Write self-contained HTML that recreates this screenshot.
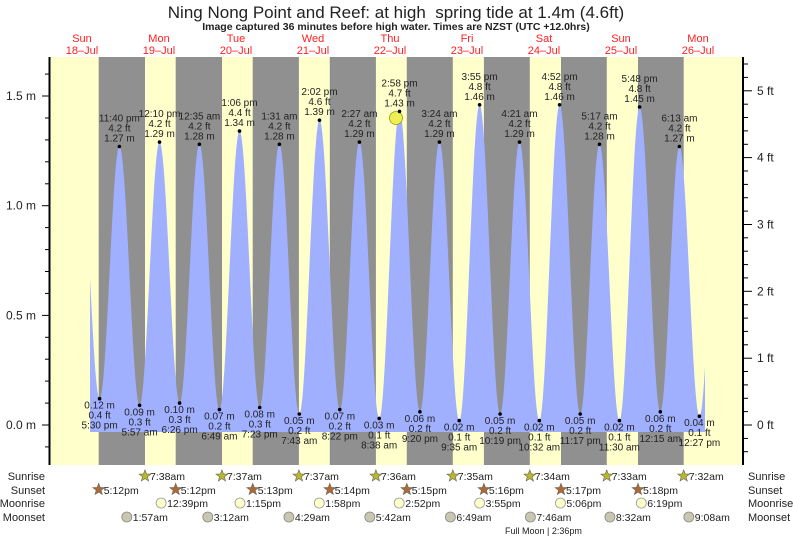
<!DOCTYPE html>
<html><head><meta charset="utf-8"><style>
html,body{margin:0;padding:0;background:#fff;}
svg{display:block;font-family:"Liberation Sans",sans-serif;}
</style></head><body>
<svg id="s" width="793" height="539" viewBox="0 0 793 539" xmlns="http://www.w3.org/2000/svg"></svg>
<script>
const S=document.getElementById('s');let h='';
const X=t=>120.5+77*t/24;
const Y=m=>425-m*219.3;
const hm=(d,hh,mm)=>(d-19)*24+hh+mm/60;
h+='<rect x="50" y="57" width="693" height="408" fill="#ffffcc"/>';
const ss=[[18,17,12],[19,17,12],[20,17,13],[21,17,14],[22,17,15],[23,17,16],[24,17,17],[25,17,18]];
const sr=[[19,7,38],[20,7,37],[21,7,37],[22,7,36],[23,7,35],[24,7,34],[25,7,33],[26,7,32]];
for(let i=0;i<8;i++){const a=X(hm(...ss[i])),b=X(hm(...sr[i]));h+=`<rect x="${a.toFixed(1)}" y="57" width="${(b-a).toFixed(1)}" height="408" fill="#909090"/>`;}
const ev=[[18,17,30,.12,'5:30 pm'],[18,23,40,1.27,'11:40 pm'],[19,5,57,.09,'5:57 am'],[19,12,10,1.29,'12:10 pm'],[19,18,26,.10,'6:26 pm'],[20,0,35,1.28,'12:35 am'],[20,6,49,.07,'6:49 am'],[20,13,6,1.34,'1:06 pm'],[20,19,23,.08,'7:23 pm'],[21,1,31,1.28,'1:31 am'],[21,7,43,.05,'7:43 am'],[21,14,2,1.39,'2:02 pm'],[21,20,22,.07,'8:22 pm'],[22,2,27,1.29,'2:27 am'],[22,8,38,.03,'8:38 am'],[22,14,58,1.43,'2:58 pm'],[22,21,20,.06,'9:20 pm'],[23,3,24,1.29,'3:24 am'],[23,9,35,.02,'9:35 am'],[23,15,55,1.46,'3:55 pm'],[23,22,19,.05,'10:19 pm'],[24,4,21,1.29,'4:21 am'],[24,10,32,.02,'10:32 am'],[24,16,52,1.46,'4:52 pm'],[24,23,17,.05,'11:17 pm'],[25,5,17,1.28,'5:17 am'],[25,11,30,.02,'11:30 am'],[25,17,48,1.45,'5:48 pm'],[26,0,15,.06,'12:15 am'],[26,6,13,1.27,'6:13 am'],[26,12,27,.04,'12:27 pm']];
const P=ev.map(e=>[X(hm(e[0],e[1],e[2])),e[3]]);
const all=[[P[0][0]-20.1,1.3],...P,[P[P.length-1][0]+20,1.3]];
let pts=[[90,432]];
for(let x=90;x<=705;x+=0.5){let i=0;while(all[i+1][0]<x)i++;const [x0,h0]=all[i],[x1,h1]=all[i+1];const f=(x-x0)/(x1-x0);const v=h0+(h1-h0)*(1-Math.cos(Math.PI*f))/2;pts.push([x,Y(v)]);}
pts.push([705,432]);
h+='<polygon fill="#a0b0ff" points="'+pts.map(p=>p[0].toFixed(1)+','+p[1].toFixed(1)).join(' ')+'"/>';
h+='<circle cx="396" cy="118" r="6.5" fill="#eeee55" stroke="#999900" stroke-width="0.8"/>';
ev.forEach((e,i)=>{const x=P[i][0],y=Y(e[3]);const ft=(e[3]/0.3048).toFixed(1);h+=`<circle cx="${x.toFixed(1)}" cy="${y.toFixed(1)}" r="1.8" fill="#000"/>`;
const t=(yy,s)=>`<text x="${x.toFixed(1)}" y="${yy.toFixed(1)}" font-size="10" text-anchor="middle" fill="#222">${s}</text>`;
if(e[3]>1){h+=t(y-5,e[3].toFixed(2)+' m')+t(y-15,ft+' ft')+t(y-25,e[4]);}else{h+=t(y+10,e[3].toFixed(2)+' m')+t(y+20,ft+' ft')+t(y+30,e[4]);}});
h+='<rect x="48.5" y="57" width="2" height="408" fill="#000"/><rect x="742" y="57" width="2" height="408" fill="#000"/>';
for(let m=-0.3;m<=1.74;m+=0.1){const y=Y(m);if(y>465||y<57)continue;const maj=Math.abs(m*2-Math.round(m*2))<1e-6;h+=`<line x1="${maj?42:45}" x2="49" y1="${y.toFixed(1)}" y2="${y.toFixed(1)}" stroke="#000" stroke-width="1"/>`;if(maj)h+=`<text x="36" y="${(y+4).toFixed(1)}" font-size="12" text-anchor="end" fill="#222">${Math.round(m*2)/2===0?'0.0':(Math.round(m*2)/2).toFixed(1)} m</text>`;}
for(let f=-1.0;f<=5.61;f+=0.2){const y=425-f*0.3048*219.3;if(y>465||y<57)continue;const maj=Math.abs(f-Math.round(f))<1e-6;h+=`<line x1="744" x2="${maj?752:748}" y1="${y.toFixed(1)}" y2="${y.toFixed(1)}" stroke="#000"/>`;if(maj&&Math.round(f)>=0)h+=`<text x="757" y="${(y+4).toFixed(1)}" font-size="12" fill="#222">${Math.round(f)} ft</text>`;}
h+='<text x="396" y="18" font-size="17" text-anchor="middle" fill="#222">Ning Nong Point and Reef: at high&#160; spring tide at 1.4m (4.6ft)</text>';
h+='<text x="396" y="30" font-size="10.5" font-weight="bold" text-anchor="middle" fill="#222">Image captured 36 minutes before high water. Times are NZST (UTC +12.0hrs)</text>';
const dn=['Sun','Mon','Tue','Wed','Thu','Fri','Sat','Sun','Mon'];
for(let i=0;i<9;i++){const x=X(-12+24*i);h+=`<text x="${x.toFixed(1)}" y="42" font-size="11" text-anchor="middle" fill="#ff2020">${dn[i]}</text><text x="${x.toFixed(1)}" y="54" font-size="11" text-anchor="middle" fill="#ff2020">${18+i}–Jul</text>`;}
const L=(y,s)=>`<text x="45" y="${y}" font-size="11" text-anchor="end" fill="#222">${s}</text><text x="748" y="${y}" font-size="11" fill="#222">${s}</text>`;
h+=L(480,'Sunrise')+L(494,'Sunset')+L(507,'Moonrise')+L(521,'Moonset');
const star=(cx,cy,fill)=>{let p=[];for(let k=0;k<10;k++){const r=k%2?2.6:6.2,a=-Math.PI/2+k*Math.PI/5;p.push((cx+r*Math.cos(a)).toFixed(1)+','+(cy+r*Math.sin(a)).toFixed(1));}return `<polygon points="${p.join(' ')}" fill="${fill}" stroke="#665" stroke-width="0.6"/>`;};
const fmt=(hh,mm)=>{const ap=hh>=12?'pm':'am';let H=hh%12;if(H==0)H=12;return H+':'+String(mm).padStart(2,'0')+ap;};
const lab=(x,y,s)=>`<text x="${(x+5).toFixed(1)}" y="${y}" font-size="10.5" fill="#222">${s}</text>`;
sr.forEach(a=>{const x=X(hm(...a));h+=star(x,476,'#b8b830')+lab(x,480,fmt(a[1],a[2]));});
ss.forEach(a=>{const x=X(hm(...a));h+=star(x,489.5,'#b06838')+lab(x,494,fmt(a[1],a[2]));});
[[19,12,39],[20,13,15],[21,13,58],[22,14,52],[23,15,55],[24,17,6],[25,18,19]].forEach(a=>{const x=X(hm(...a));h+=`<circle cx="${x.toFixed(1)}" cy="503" r="5" fill="#ffffcc" stroke="#999" stroke-width="0.8"/>`+lab(x+1,507,fmt(a[1],a[2]));});
[[19,1,57],[20,3,12],[21,4,29],[22,5,42],[23,6,49],[24,7,46],[25,8,32],[26,9,8]].forEach(a=>{const x=X(hm(...a));h+=`<circle cx="${x.toFixed(1)}" cy="517" r="5" fill="#c8c8b0" stroke="#888" stroke-width="0.8"/>`+lab(x+1,521,fmt(a[1],a[2]));});
h+='<text x="505" y="534" font-size="9" fill="#222">Full Moon | 2:36pm</text>';
S.innerHTML=h;
</script>
</body></html>
